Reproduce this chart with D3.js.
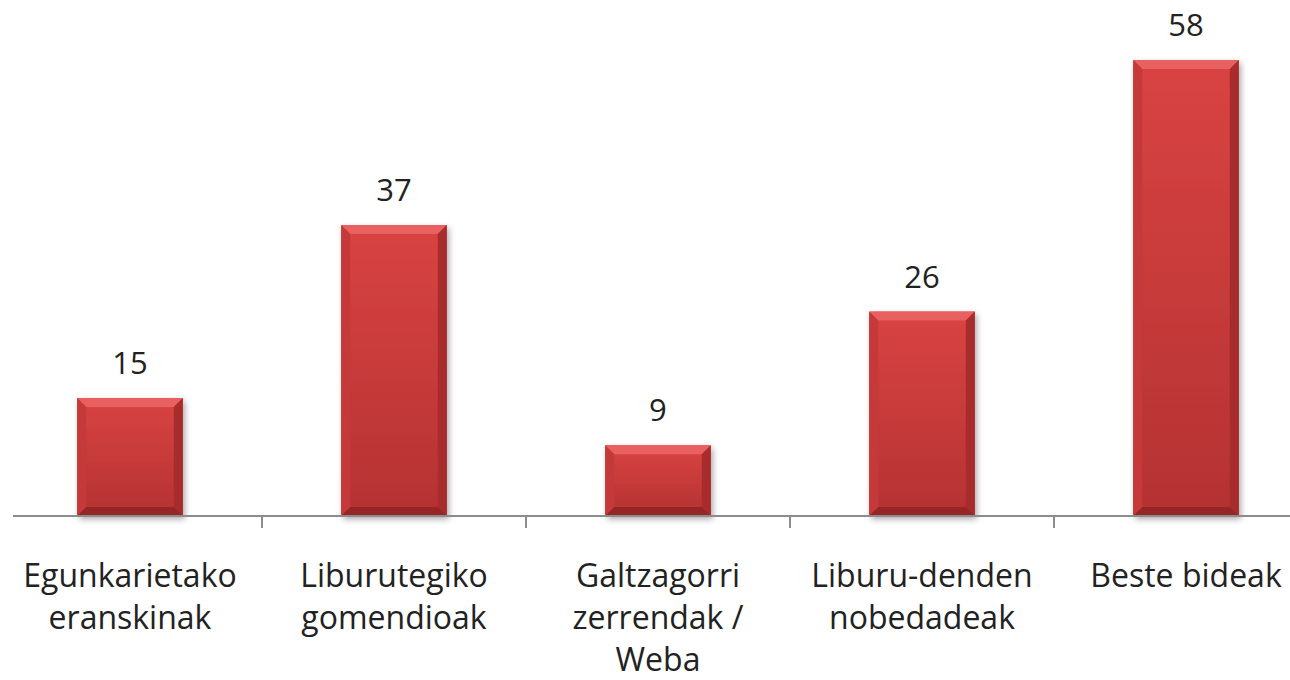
<!DOCTYPE html>
<html lang="en">
<head>
    <meta charset="UTF-8">
    <title>bar chart</title>
    <script src="https://cdnjs.cloudflare.com/ajax/libs/d3/7.8.5/d3.min.js"></script>
    <style>
        body { margin: 0; background: #fff; }
        .chart text {
            fill: #222;
            font-family: "Open Sans", sans-serif;
        }
        .chart text.val { font-size: 31px; }
        .chart text.cat { font-size: 32px; }
        .axis line {
            fill: none;
            stroke: #8c8c8c;
            stroke-width: 1.5px;
            shape-rendering: crispEdges;
        }
    </style>
</head>
<body>
    <svg class="chart"></svg>
    <script>
        const categories = [
            ['Egunkarietako', 'eranskinak'],
            ['Liburutegiko', 'gomendioak'],
            ['Galtzagorri', 'zerrendak /', 'Weba'],
            ['Liburu-denden', 'nobedadeak'],
            ['Beste bideak']
        ];
        const values = [15, 37, 9, 26, 58];
        const keys = categories.map((c, i) => i);

        const width = 1290, height = 680;
        const baseY = 516;

        const x = d3.scaleBand()
            .domain(keys)
            .range([-2, 1318])
            .paddingInner(0.6)
            .paddingOuter(0.3);

        const y = d3.scaleLinear()
            .domain([0, 58])
            .range([baseY, 60]);

        const svg = d3.select('.chart')
            .attr('width', width)
            .attr('height', height);

        const defs = svg.append('defs');
        const f = defs.append('filter').attr('id', 'shadow')
            .attr('x', '-20%').attr('y', '-20%').attr('width', '140%').attr('height', '140%');
        f.append('feDropShadow').attr('dx', 2).attr('dy', 3).attr('stdDeviation', 3)
            .attr('flood-color', '#000').attr('flood-opacity', 0.35);

        const g = defs.append('linearGradient').attr('id', 'face')
            .attr('x1', 0).attr('y1', 0).attr('x2', 0).attr('y2', 1);
        g.append('stop').attr('offset', '0%').attr('stop-color', '#d94343');
        g.append('stop').attr('offset', '100%').attr('stop-color', '#b53232');

        const bar = svg.selectAll('g.bar')
            .data(values)
            .enter().append('g')
            .attr('class', 'bar')
            .attr('transform', (d, i) => `translate(${x(i)}, 0)`);

        const bw = x.bandwidth();
        const bev = 9;

        bar.append('rect')
            .attr('y', d => y(d))
            .attr('width', bw)
            .attr('height', d => baseY - y(d))
            .attr('fill', 'url(#face)')
            .attr('filter', 'url(#shadow)');

        // bevel edges
        bar.append('polygon')
            .attr('fill', '#e96060')
            .attr('points', d => {
                const t = y(d);
                return `0,${t} ${bw},${t} ${bw - bev},${t + bev} ${bev},${t + bev}`;
            });
        bar.append('polygon')
            .attr('fill', '#c43a3a')
            .attr('points', d => {
                const t = y(d);
                return `0,${t} ${bev},${t + bev} ${bev},${baseY - bev} 0,${baseY}`;
            });
        bar.append('polygon')
            .attr('fill', '#a82c2c')
            .attr('points', d => {
                const t = y(d);
                return `${bw},${t} ${bw},${baseY} ${bw - bev},${baseY - bev} ${bw - bev},${t + bev}`;
            });
        bar.append('polygon')
            .attr('fill', '#962626')
            .attr('points', `0,${baseY} ${bev},${baseY - bev} ${bw - bev},${baseY - bev} ${bw},${baseY}`);

        bar.append('text')
            .attr('class', 'val')
            .attr('x', bw / 2)
            .attr('y', d => y(d) - 24)
            .attr('text-anchor', 'middle')
            .text(d => d);

        // axis
        const axis = svg.append('g').attr('class', 'axis');
        axis.append('line')
            .attr('x1', 13).attr('x2', width)
            .attr('y1', baseY).attr('y2', baseY);
        axis.selectAll('line.tick')
            .data(keys.slice(1))
            .enter().append('line')
            .attr('class', 'tick')
            .attr('x1', d => x(d) - x.step() * x.paddingInner() / 2)
            .attr('x2', d => x(d) - x.step() * x.paddingInner() / 2)
            .attr('y1', baseY).attr('y2', baseY + 12);

        const lab = svg.selectAll('text.cat')
            .data(categories)
            .enter().append('text')
            .attr('class', 'cat')
            .attr('text-anchor', 'middle')
            .attr('x', (d, i) => x(i) + bw / 2)
            .attr('y', 587);
        lab.selectAll('tspan')
            .data(d => d)
            .enter().append('tspan')
            .attr('x', function () { return d3.select(this.parentNode).attr('x'); })
            .attr('dy', (d, i) => i === 0 ? 0 : 42)
            .text(d => d);
    </script>
</body>
</html>
